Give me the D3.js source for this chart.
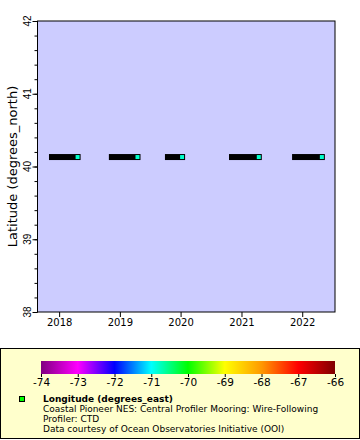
<!DOCTYPE html>
<html><head><meta charset="utf-8">
<script src="https://cdn.jsdelivr.net/npm/d3@7"></script>
<style>body{margin:0;background:#fff}svg{display:block;font-family:"DejaVu Sans",sans-serif}</style>
</head><body><svg id="c" width="360" height="440"></svg>
<script>
// deployments (start/end time of profiler records)
const deployStart = ["2017-11-19","2018-11-14","2019-10-17","2020-11-05","2021-11-19"];
const deployEnd   = ["2018-04-22","2019-04-17","2020-01-10","2021-04-15","2022-04-29"];
const latitude  = [40.13, 40.13, 40.13, 40.13, 40.13];
const longitude = [-70.8, -70.8, -70.8, -70.8, -70.8];
const yTicks = [38, 39, 40, 41, 42];
const xTickYears = [2018, 2019, 2020, 2021, 2022];
const cbTicks = [-74,-73,-72,-71,-70,-69,-68,-67,-66];
const cbColors = ["#800080","#ff00ff","#0000ff","#00ffff","#00ff00","#ffff00","#ff9900","#ff0000","#800000"];
const legendLines = ["Coastal Pioneer NES: Central Profiler Mooring: Wire-Following","Profiler: CTD","Data courtesy of Ocean Observatories Initiative (OOI)"];

const svg = d3.select("#c");
const L=37.5, R=335, T=21, B=312;
const parse = d3.utcParse("%Y-%m-%d");
const x = d3.scaleUtc().domain([parse("2017-08-24"), parse("2022-07-17")]).range([L,R]);
const y = d3.scaleLinear().domain([38,42]).range([B,T]);
const color = d3.scaleLinear().domain(cbTicks).range(cbColors);

svg.append("rect").attr("x",L).attr("y",T).attr("width",R-L).attr("height",B-T).attr("fill","#ccccff");

// markers
const data = deployStart.map((s,i)=>({s:parse(s),e:parse(deployEnd[i]),lat:latitude[i],lon:longitude[i]}));
const g = svg.append("g");
data.forEach(d=>{
  g.append("rect").attr("x",x(d.s)-3).attr("y",y(d.lat)-3).attr("width",x(d.e)-x(d.s)+6).attr("height",6).attr("fill","#000");
  g.append("rect").attr("x",x(d.e)-2).attr("y",y(d.lat)-2).attr("width",4).attr("height",4).attr("fill",color(d.lon));
});

// frame
svg.append("rect").attr("x",L).attr("y",T).attr("width",R-L).attr("height",B-T).attr("fill","none").attr("stroke","#000");

// y axis
const ya = svg.append("g").attr("transform",`translate(${L},0)`);
ya.call(d3.axisLeft(y).tickValues(d3.range(38,42.001,0.2)).tickSize(3).tickFormat("")).call(g=>g.select(".domain").remove());
ya.append("g").call(d3.axisLeft(y).tickValues(yTicks).tickSize(5).tickFormat("")).call(g=>g.select(".domain").remove());
ya.selectAll("line").attr("stroke","#000");
yTicks.forEach(v=>{
  ya.append("text").attr("transform",`translate(-7,${y(v)}) rotate(-90)`).attr("text-anchor","middle").attr("font-size",10).attr("fill","#000").text(v);
});
svg.append("text").attr("transform",`translate(17,${(T+B)/2}) rotate(-90)`).attr("text-anchor","middle").attr("font-size",13).attr("fill","#000").text("Latitude (degrees_north)");

// x axis
const xa = svg.append("g").attr("transform",`translate(0,${B})`);
xa.call(d3.axisBottom(x).tickValues(xTickYears.map(yr=>new Date(Date.UTC(yr,0,1)))).tickSize(5).tickFormat(d3.utcFormat("%Y")))
  .call(g=>g.select(".domain").remove());
xa.selectAll("line").attr("stroke","#000");
xa.selectAll("text").attr("font-size",10).attr("font-family","DejaVu Sans").attr("fill","#000").attr("dy","0.6em");

// legend
svg.append("rect").attr("x",0.5).attr("y",348.5).attr("width",359).attr("height",90).attr("fill","#ffffcc").attr("stroke","#000");
const cx = d3.scaleLinear().domain([-74,-66]).range([41,335]);
const defs = svg.append("defs");
const grad = defs.append("linearGradient").attr("id","cb");
cbTicks.forEach((v,i)=>grad.append("stop").attr("offset",(i/(cbTicks.length-1))).attr("stop-color",cbColors[i]));
svg.append("rect").attr("x",41).attr("y",361).attr("width",294).attr("height",13).attr("fill","url(#cb)");
const ca = svg.append("g").attr("transform","translate(0,374)");
ca.call(d3.axisBottom(cx).tickValues(cbTicks).tickSize(3).tickFormat(d=>d)).call(g=>g.select(".domain").remove());
ca.selectAll("line").attr("stroke","#000");
ca.selectAll("text").attr("font-size",10.5).attr("font-family","DejaVu Sans").attr("fill","#000").attr("dy","0.55em");

svg.append("rect").attr("x",19.5).attr("y",396.5).attr("width",5).attr("height",5).attr("fill","#00ff00").attr("stroke","#000");
svg.append("text").attr("x",43).attr("y",402).attr("font-size",9).attr("font-weight","bold").attr("fill","#000").text("Longitude (degrees_east)");
legendLines.forEach((t,i)=>svg.append("text").attr("x",43).attr("y",412+i*10.2).attr("font-size",9).attr("fill","#000").text(t));
</script></body></html>
